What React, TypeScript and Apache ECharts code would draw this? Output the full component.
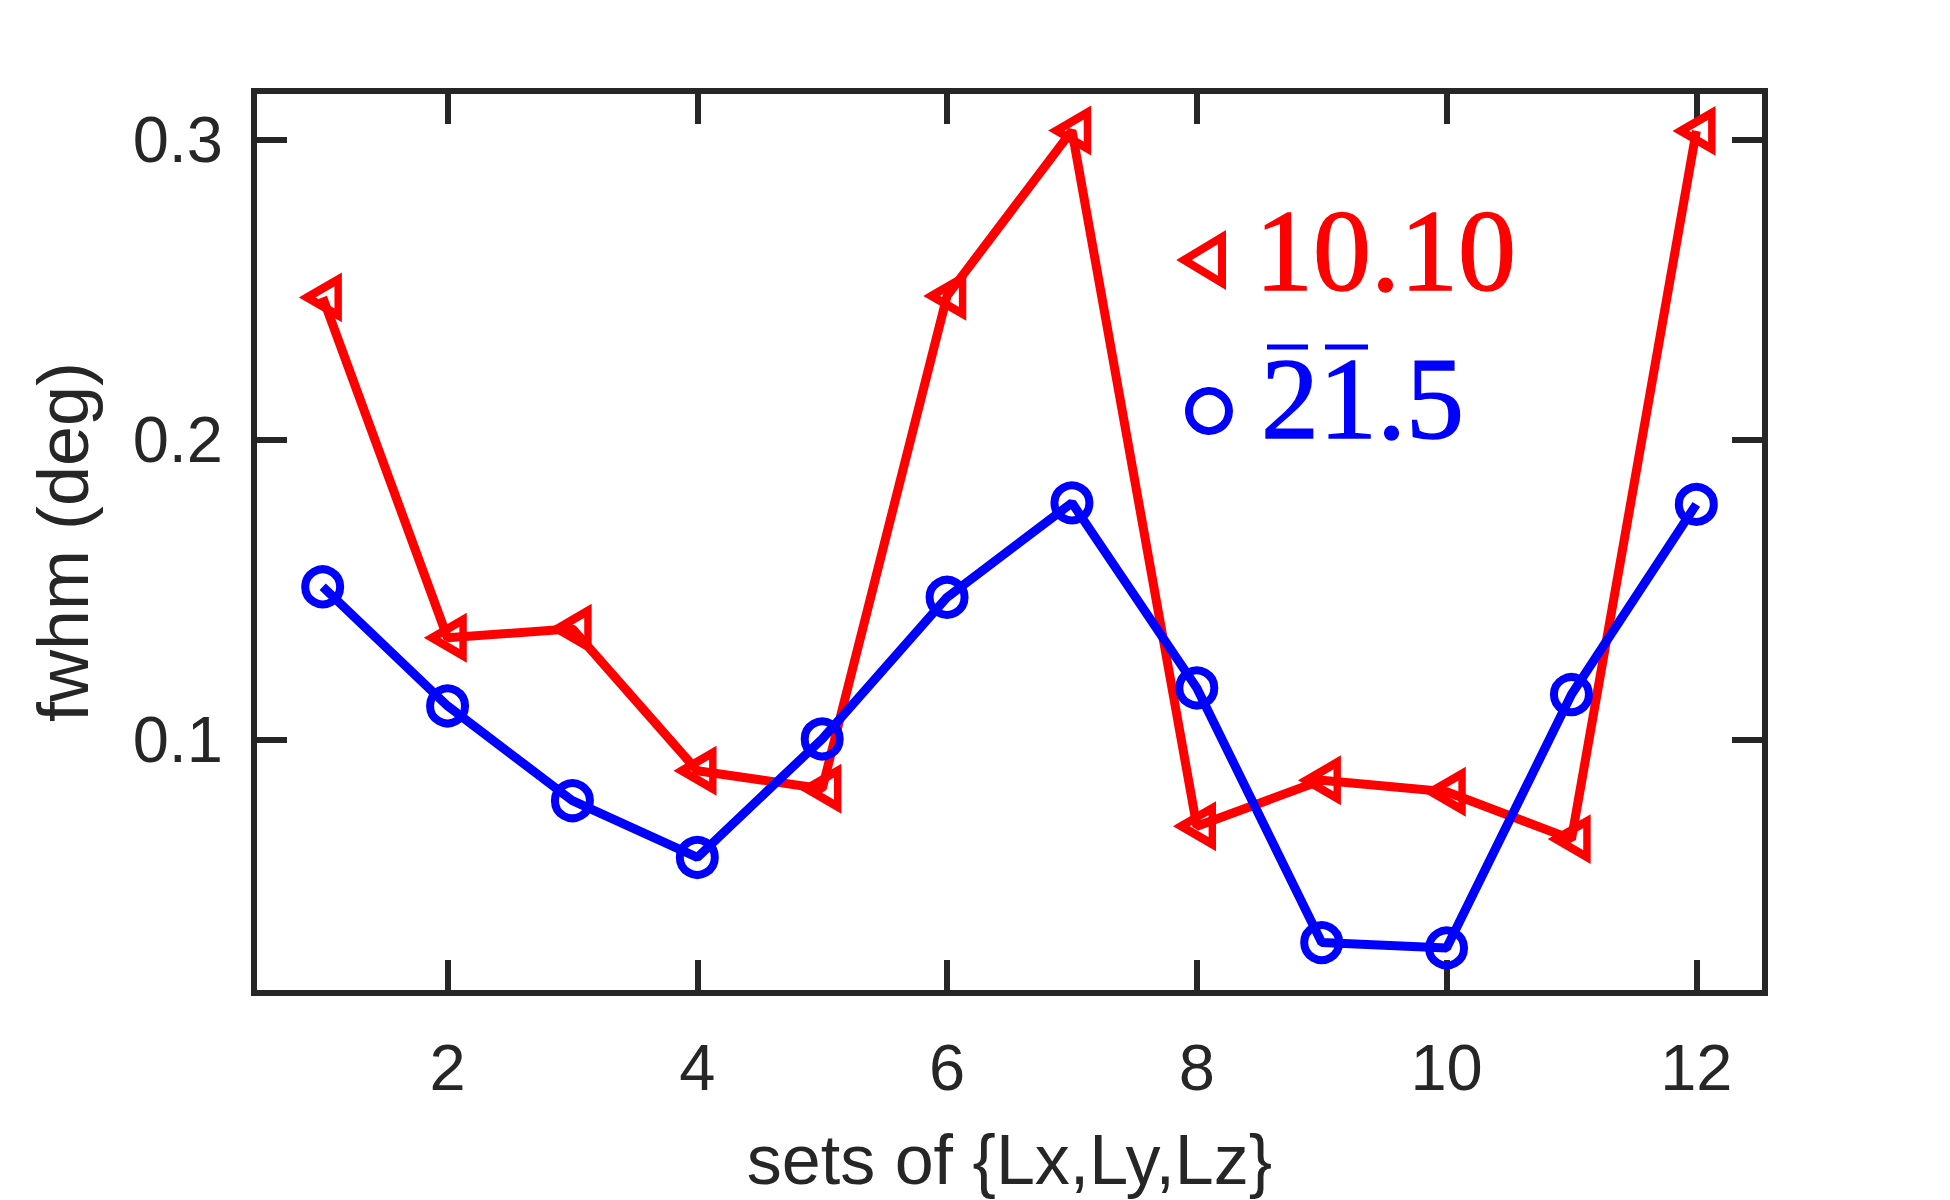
import React, { useEffect, useRef } from "react";
import * as echarts from "echarts";

const setIndex = [1, 2, 3, 4, 5, 6, 7, 8, 9, 10, 11, 12];
const fwhm1010 = [0.2475, 0.134, 0.137, 0.0897, 0.0837, 0.248, 0.3031, 0.0712, 0.0865, 0.0827, 0.0669, 0.303];
const fwhm215 = [0.151, 0.1113, 0.0797, 0.0608, 0.1003, 0.1475, 0.179, 0.1173, 0.0324, 0.0306, 0.1151, 0.1785];
const xTicks = [2, 4, 6, 8, 10, 12];
const xTickLabels = ["2", "4", "6", "8", "10", "12"];
const yTicks = [0.1, 0.2, 0.3];
const yTickLabels = ["0.1", "0.2", "0.3"];
const seriesNames = ["10.10", "2\u03051\u0305.5"];

const AX = "#262626";
const RED = "#ff0000";
const BLUE = "#0000ff";

export default function App() {
  const ref = useRef<HTMLDivElement>(null);
  useEffect(() => {
    if (!ref.current) return;
    const chart = echarts.init(ref.current, null, { renderer: "svg" });
    const tickStyle = { show: true, inside: true, length: 33, lineStyle: { color: AX, width: 6 } };
    const labelFor = (vals: number[], labels: string[]) => (v: number) => {
      const i = vals.findIndex((t) => Math.abs(t - v) < 1e-9);
      return i >= 0 ? labels[i] : "";
    };
    const xBase = { type: "value", min: 0.45, max: 12.55, splitLine: { show: false }, axisLine: { show: false } };
    const yBase = { type: "value", min: 0.0156, max: 0.3163, splitLine: { show: false }, axisLine: { show: false } };
    chart.setOption({
      animation: false,
      backgroundColor: "#ffffff",
      grid: {
        left: 254,
        top: 91,
        width: 1511,
        height: 905,
        show: true,
        borderColor: AX,
        borderWidth: 6,
        backgroundColor: "transparent",
      },
      xAxis: [
        {
          ...xBase,
          position: "bottom",
          axisTick: { ...tickStyle, customValues: xTicks },
          axisLabel: {
            customValues: xTicks,
            formatter: labelFor(xTicks, xTickLabels),
            fontFamily: "Liberation Sans",
            fontSize: 65,
            color: AX,
            margin: 42,
          },
          name: "sets of {Lx,Ly,Lz}",
          nameLocation: "middle",
          nameGap: 132,
          nameTextStyle: { fontFamily: "Liberation Sans", fontSize: 70, color: AX },
        },
        {
          ...xBase,
          position: "top",
          axisTick: { ...tickStyle, customValues: xTicks },
          axisLabel: { show: false, customValues: xTicks },
        },
      ],
      yAxis: [
        {
          ...yBase,
          position: "left",
          axisTick: { ...tickStyle, customValues: yTicks },
          axisLabel: {
            customValues: yTicks,
            formatter: labelFor(yTicks, yTickLabels),
            fontFamily: "Liberation Sans",
            fontSize: 65,
            color: AX,
            margin: 31,
          },
          name: "fwhm (deg)",
          nameLocation: "middle",
          nameGap: 155,
          nameTextStyle: { fontFamily: "Liberation Sans", fontSize: 72, color: AX },
        },
        {
          ...yBase,
          position: "right",
          axisTick: { ...tickStyle, customValues: yTicks },
          axisLabel: { show: false, customValues: yTicks },
        },
      ],
      series: [
        {
          name: seriesNames[0],
          type: "line",
          xAxisIndex: 0,
          yAxisIndex: 0,
          data: setIndex.map((x, i) => [x, fwhm1010[i]]),
          symbol: "triangle",
          symbolRotate: 90,
          symbolSize: [36, 31],
          showAllSymbol: true,
          lineStyle: { color: RED, width: 9 },
          itemStyle: { color: "rgba(0,0,0,0)", borderColor: RED, borderWidth: 8 },
          z: 3,
        },
        {
          name: seriesNames[1],
          type: "line",
          xAxisIndex: 0,
          yAxisIndex: 0,
          data: setIndex.map((x, i) => [x, fwhm215[i]]),
          symbol: "circle",
          symbolSize: 35,
          showAllSymbol: true,
          lineStyle: { color: BLUE, width: 9 },
          itemStyle: { color: "rgba(0,0,0,0)", borderColor: BLUE, borderWidth: 8 },
          z: 4,
        },
      ],
      graphic: [
        {
          type: "polygon",
          shape: { points: [[1184, 260], [1222, 237], [1222, 283]] },
          style: { fill: "none", stroke: RED, lineWidth: 8 },
        },
        {
          type: "text",
          x: 1255,
          y: 251,
          style: {
            text: "10.10",
            fontFamily: "Liberation Serif",
            fontSize: 116,
            fill: RED,
            stroke: RED,
            lineWidth: 1.5,
            verticalAlign: "middle",
            textAlign: "left",
          },
        },
        {
          type: "circle",
          shape: { cx: 1209, cy: 411, r: 20 },
          style: { fill: "none", stroke: BLUE, lineWidth: 8 },
        },
        {
          type: "text",
          x: 1261,
          y: 399,
          style: {
            text: "21.5",
            fontFamily: "Liberation Serif",
            fontSize: 116,
            fill: BLUE,
            stroke: BLUE,
            lineWidth: 1.5,
            verticalAlign: "middle",
            textAlign: "left",
          },
        },
        {
          type: "line",
          shape: { x1: 1267, y1: 347, x2: 1308, y2: 347 },
          style: { stroke: BLUE, lineWidth: 5 },
        },
        {
          type: "line",
          shape: { x1: 1325, y1: 347, x2: 1368, y2: 347 },
          style: { stroke: BLUE, lineWidth: 5 },
        },
      ],
    });
    return () => chart.dispose();
  }, []);
  return (
    <div
      ref={ref}
      style={{ position: "absolute", left: 0, top: 0, width: 1950, height: 1200, background: "#fff" }}
    />
  );
}
